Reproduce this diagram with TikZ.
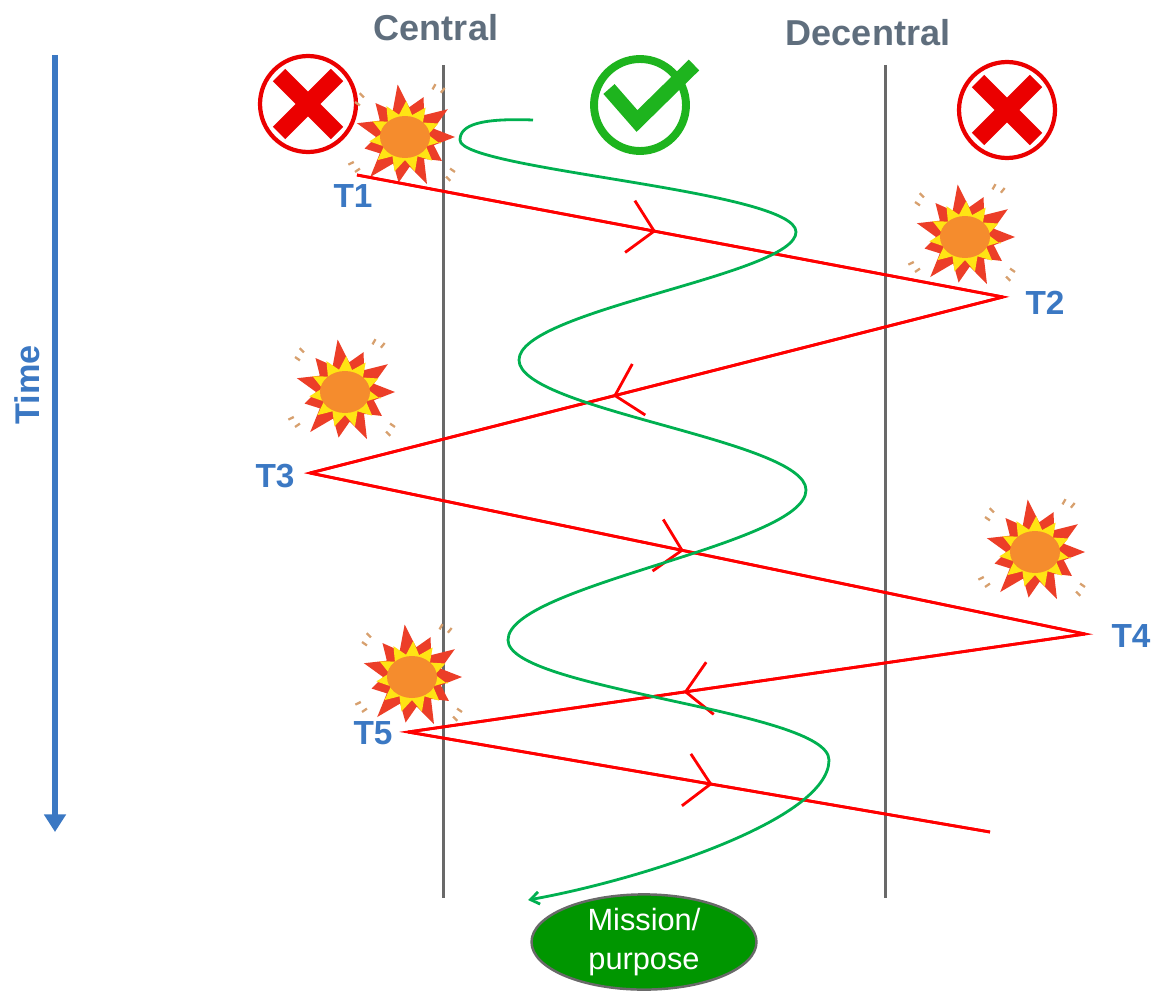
\documentclass[tikz,border=0pt]{standalone}
\usepackage{fontspec}
\setmainfont{Liberation Sans}
\usetikzlibrary{arrows.meta,decorations.markings,shapes.geometric}

\definecolor{headgray}{RGB}{95,110,125}
\definecolor{timeblue}{RGB}{59,120,195}
\definecolor{lanegray}{RGB}{105,105,105}
\definecolor{pathgreen}{RGB}{0,176,80}
\definecolor{okgreen}{RGB}{30,180,30}
\definecolor{goalgreen}{RGB}{0,150,0}
\definecolor{nogored}{RGB}{235,0,0}
\definecolor{boomred}{RGB}{236,62,40}
\definecolor{boomyellow}{RGB}{255,228,20}
\definecolor{boomorange}{RGB}{245,140,45}
\definecolor{boomdust}{RGB}{215,160,110}

\tikzset{
  head/.style={text=headgray, font=\fontsize{20.5}{24}\selectfont\bfseries},
  tlabel/.style={text=timeblue, font=\fontsize{19}{22}\selectfont\bfseries},
  lane/.style={draw=lanegray, line width=1.7pt},
  zigzag/.style={draw=red, line width=1.6pt},
  midarrow/.style={postaction={decorate}, decoration={markings,
      mark=at position #1 with {\draw[red, line width=1.6pt, line join=miter] (-14pt,15pt) -- (0,0) -- (-14pt,-15pt);}}},
  % red "no" sign
  nogo/.pic={
    \draw[nogored, line width=2.4pt] (0,0) circle (0.96cm);
    \draw[nogored, line width=10pt] (-29,-29) -- (29,29) (-29,29) -- (29,-29);
  },
  % green tick
  okmark/.pic={
    \draw[okgreen, line width=4.5pt] (0,0) circle (0.92cm);
    \draw[okgreen, line width=8.5pt, line join=miter] (-31,-16) -- (-3,16) -- (54,-40);
  },
  % explosion
  boom/.pic={
    \fill[boomred] (0:50)
      \foreach \a/\r in {16/30,33/44,49/29,65/52,81/30,98/46,114/29,131/53,147/30,164/42,180/29,196/50,213/30,229/45,245/29,262/53,278/30,295/44,311/29,327/51,344/30} {-- (\a:\r)} -- cycle;
    \fill[boomyellow] (8:36)
      \foreach \a in {0,33,...,330} {-- (\a+24:23) -- (\a+41:36)} -- cycle;
    \fill[boomorange] (0,0) ellipse (0.5cm and 0.42cm);
    \foreach \a in {35,145,215,300}
      \draw[boomdust, line width=1.3pt] (\a:55) -- (\a:61) (\a+9:57) -- (\a+9:63);
  }
}

\begin{document}
\begin{tikzpicture}[x=0.02cm, y=-0.02cm]
  \useasboundingbox (0,0) rectangle (1155,990);

  % headings and lanes
  \node[head] (central) at (436,28) {Central};
  \node[head] (decentral) at (868,33) {Decentral};
  \draw[lane] (443,65) -- (443,898);
  \draw[lane] (885,65) -- (885,898);

  % time axis
  \coordinate (tstart) at (55,55);
  \coordinate (tend) at (55,832);
  \draw[timeblue, line width=3.2pt, -{Triangle[length=10pt,width=12pt]}] (tstart) -- (tend);
  \node[text=timeblue, font=\fontsize{19.5}{22}\selectfont\bfseries, rotate=90] (time) at (27,385) {Time};

  % signs
  \pic at (308,104) {nogo};
  \pic at (1007,110) {nogo};
  \pic at (640,105) {okmark};

  % explosions
  \pic at (405,137) {boom};
  \pic at (965,237) {boom};
  \pic at (345,392) {boom};
  \pic at (1035,552) {boom};
  \pic at (412,677) {boom};

  % turning points
  \node[tlabel] (T1) at (353,196) {T1};
  \node[tlabel] (T2) at (1045,303) {T2};
  \node[tlabel] (T3) at (275,476) {T3};
  \node[tlabel] (T4) at (1131,636) {T4};
  \node[tlabel] (T5) at (373,733) {T5};

  \coordinate (p1) at (357,175);
  \coordinate (p2) at (1003,297);
  \coordinate (p3) at (310,473);
  \coordinate (p4) at (1085,634);
  \coordinate (p5) at (408,732);
  \coordinate (p6) at (990,832);

  \path[zigzag, midarrow=0.46] (p1) -- (p2);
  \path[zigzag, midarrow=0.56] (p2) -- (p3);
  \path[zigzag, midarrow=0.48] (p3) -- (p4);
  \path[zigzag, midarrow=0.59] (p4) -- (p5);
  \path[zigzag, midarrow=0.52] (p5) -- (p6);
  \draw[red, line width=1.6pt, line join=miter] (p1) -- (p2) -- (p3) -- (p4) -- (p5) -- (p6);

  % goal
  \node[ellipse, draw=lanegray, line width=1.4pt, fill=goalgreen, text=white,
        minimum width=4.5cm, minimum height=1.9cm, inner sep=0pt, align=center,
        font=\fontsize{17.5}{22}\selectfont] (goal) at (644,942) {Mission/\\purpose};

  \coordinate (wstart) at (533,120);
  \coordinate (wend) at (528,900);
  \draw[pathgreen, line width=1.6pt, -{Straight Barb[length=5pt,width=7pt]}] (wstart)
    .. controls (480,118) and (460,125) .. (460,140)
    .. controls (460,170) and (796,190) .. (796,232)
    .. controls (796,275) and (519,310) .. (519,360)
    .. controls (519,410) and (806,440) .. (806,490)
    .. controls (806,545) and (508,585) .. (508,640)
    .. controls (508,690) and (829,710) .. (829,760)
    .. controls (829,820) and (640,880) .. (wend);
\end{tikzpicture}
\end{document}
